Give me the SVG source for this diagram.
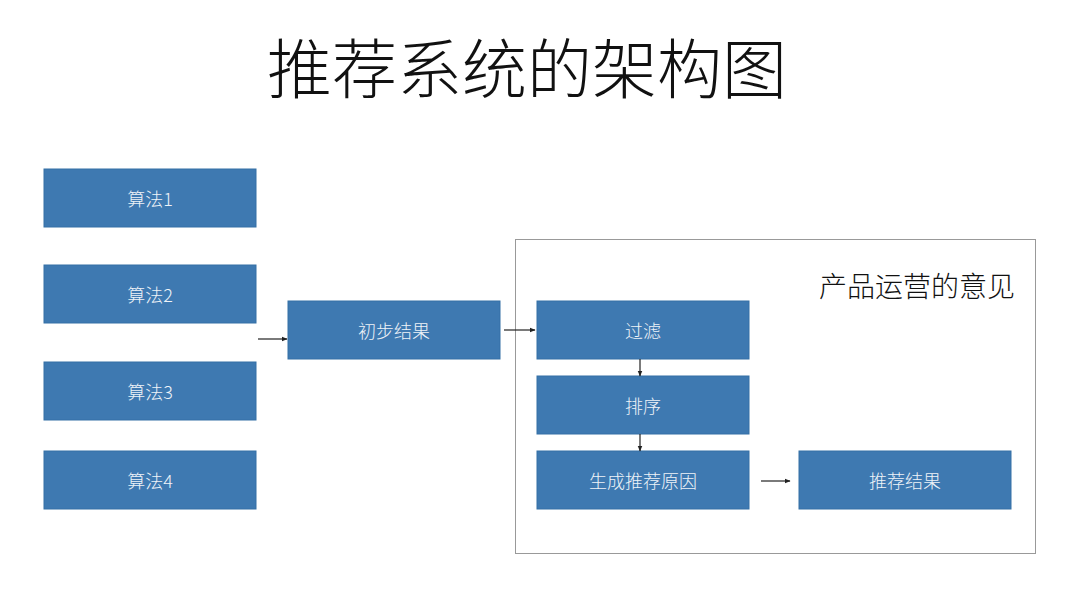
<svg xmlns="http://www.w3.org/2000/svg" width="1080" height="590" viewBox="0 0 1080 590">
<style>
.box{fill:#3e79b1;stroke:#3570a6;stroke-width:1}
.lbl{font-family:"Noto Sans CJK SC","Liberation Sans",sans-serif;font-size:18px;fill:#eef3f8;text-anchor:middle;dominant-baseline:central;font-weight:300}
.conn{stroke:#222;stroke-width:1.2;fill:none;marker-end:url(#ah)}
</style>
<defs>
<marker id="ah" viewBox="0 0 10 10" refX="9" refY="5" markerWidth="6" markerHeight="6" orient="auto" markerUnits="userSpaceOnUse"><path d="M0,1 L10,5 L0,9 z" fill="#222"/></marker>
</defs>
<rect width="1080" height="590" fill="#fff"/>
<text x="527" y="93" font-family="Noto Sans CJK SC,sans-serif" font-size="65" fill="#111" text-anchor="middle" font-weight="300">推荐系统的架构图</text>
<g id="frame">
<rect x="515.5" y="239.5" width="520" height="314" fill="none" stroke="#999" stroke-width="1"/>
<text x="1015" y="297" font-family="Noto Sans CJK SC,sans-serif" font-size="28" fill="#111" text-anchor="end" font-weight="300">产品运营的意见</text>
</g>
<g id="alg1"><rect class="box" x="44" y="169" width="212" height="58"/><text class="lbl" x="150" y="198">算法1</text></g>
<g id="alg2"><rect class="box" x="44" y="265" width="212" height="58"/><text class="lbl" x="150" y="294">算法2</text></g>
<g id="alg3"><rect class="box" x="44" y="362" width="212" height="58"/><text class="lbl" x="150" y="391">算法3</text></g>
<g id="alg4"><rect class="box" x="44" y="451" width="212" height="58"/><text class="lbl" x="150" y="480">算法4</text></g>
<g id="prelim"><rect class="box" x="288" y="301" width="212" height="58"/><text class="lbl" x="394" y="330">初步结果</text></g>
<g id="filter"><rect class="box" x="537" y="301" width="212" height="58"/><text class="lbl" x="643" y="330">过滤</text></g>
<g id="sort"><rect class="box" x="537" y="376" width="212" height="58"/><text class="lbl" x="643" y="405">排序</text></g>
<g id="reason"><rect class="box" x="537" y="451" width="212" height="58"/><text class="lbl" x="643" y="480">生成推荐原因</text></g>
<g id="result"><rect class="box" x="799" y="451" width="212" height="58"/><text class="lbl" x="905" y="480">推荐结果</text></g>
<g id="connectors">
<line class="conn" x1="258" y1="339" x2="287" y2="339"/>
<line class="conn" x1="504" y1="330" x2="535" y2="330"/>
<line class="conn" x1="640" y1="359" x2="640" y2="376"/>
<line class="conn" x1="640" y1="434" x2="640" y2="451"/>
<line class="conn" x1="761" y1="481" x2="790" y2="481"/>
</g>
</svg>
